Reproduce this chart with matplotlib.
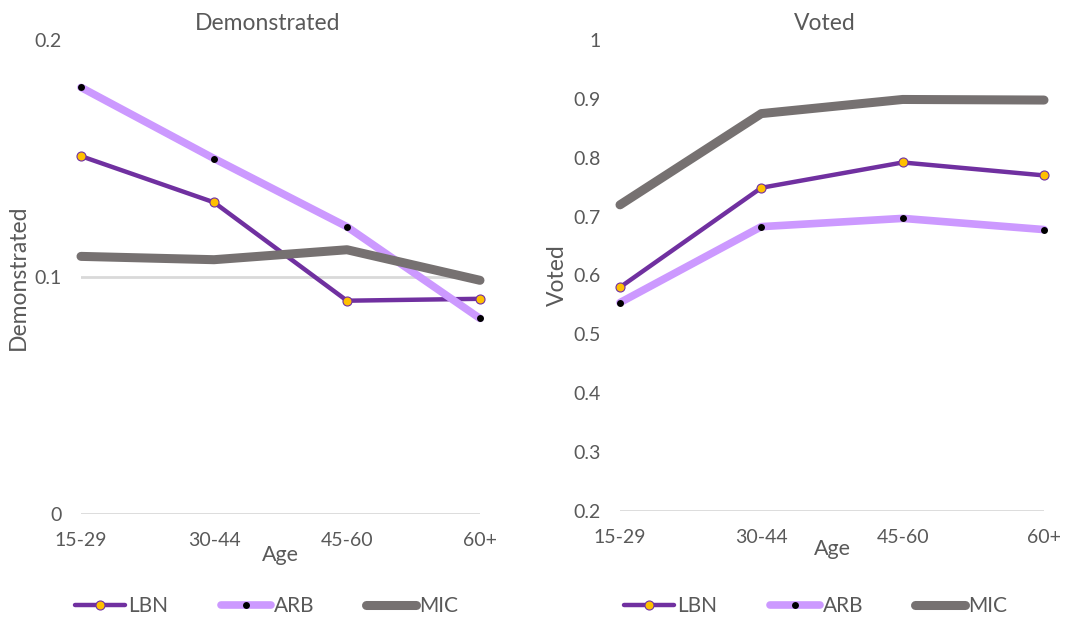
import matplotlib
matplotlib.use("Agg")
import matplotlib.pyplot as plt
from matplotlib.lines import Line2D

plt.rcParams['font.family'] = ['Lato', 'DejaVu Sans']

ages = ["15-29", "30-44", "45-60", "60+"]
series_names = ["LBN", "ARB", "MIC"]

demonstrated_lbn = [0.151, 0.1315, 0.090, 0.0908]
demonstrated_arb = [0.180, 0.150, 0.1212, 0.0825]
demonstrated_mic = [0.1087, 0.1073, 0.1115, 0.0986]

voted_lbn = [0.580, 0.749, 0.792, 0.770]
voted_arb = [0.554, 0.683, 0.697, 0.678]
voted_mic = [0.720, 0.875, 0.899, 0.898]

TEXT = "#595959"
GRID = "#D9D9D9"
styles = {
    "LBN": dict(color="#7030A0", lw=3.2, marker="o", ms=6.5, mfc="#FFC000", mec="#7030A0", mew=0.8, zorder=3),
    "ARB": dict(color="#CC99FF", lw=5.5, marker="o", ms=5, mfc="black", mec="black", mew=0, zorder=4),
    "MIC": dict(color="#767171", lw=6.5, marker="o", ms=0.1, mfc="#767171", mec="#767171", mew=0, zorder=5),
}

fig = plt.figure(figsize=(10.67, 6.19), dpi=100)
W, H = 1067, 619


def make_axes(x0, x1, ytop, ybot):
    return fig.add_axes([x0 / W, 1 - ybot / H, (x1 - x0) / W, (ybot - ytop) / H])


ax1 = make_axes(81, 480, 40, 514)
ax2 = make_axes(620, 1044, 40, 511)

panels = [
    (ax1, "Demonstrated", [demonstrated_lbn, demonstrated_arb, demonstrated_mic],
     (0, 0.2), [0, 0.1, 0.2], ["0", "0.1", "0.2"], [0, 0.1], 268, (267, 606), -3),
    (ax2, "Voted", [voted_lbn, voted_arb, voted_mic],
     (0.2, 1.0), [0.2, 0.3, 0.4, 0.5, 0.6, 0.7, 0.8, 0.9, 1.0],
     ["0.2", "0.3", "0.4", "0.5", "0.6", "0.7", "0.8", "0.9", "1"], [0.2], 825, (816, 606), -5),
]

x = list(range(len(ages)))
for ax, title, data, ylim, yticks, ylabels, grid_at, title_x, leg_pos, xlpad in panels:
    for g in grid_at:
        ax.axhline(g, color=GRID, lw=2, zorder=1)
    for name, vals in zip(series_names, data):
        ax.plot(x, vals, solid_capstyle="round", solid_joinstyle="round",
                clip_on=False, label=name, **styles[name])
    ax.set_xlim(0, 3)
    ax.set_ylim(*ylim)
    ax.set_xticks(x)
    ax.set_xticklabels(ages)
    ax.set_yticks(yticks)
    ax.set_yticklabels(ylabels)
    for s in ax.spines.values():
        s.set_visible(False)
    ax.tick_params(length=0, colors=TEXT, labelsize=14)
    ax.tick_params(axis="y", pad=14)
    ax.tick_params(axis="x", pad=13)
    ax.set_xlabel("Age", fontsize=15.5, color=TEXT, labelpad=xlpad)
    ax.set_ylabel(title, fontsize=16.5, color=TEXT, labelpad=4)
    fig.text(title_x / W, 1 - 24 / H, title, fontsize=16.5, color=TEXT,
             ha="center", va="center")

    handles = [Line2D([], [], **{k: v for k, v in styles[n].items() if k != "zorder"})
               for n in series_names]
    for h in handles:
        h.set_solid_capstyle("round")
    leg = fig.legend(handles, series_names, loc="center",
                     bbox_to_anchor=(leg_pos[0] / W, 1 - leg_pos[1] / H),
                     ncol=3, frameon=False, fontsize=15, handlelength=2.4,
                     handletextpad=0.15, columnspacing=2.5, labelcolor=TEXT,
                     borderaxespad=0, borderpad=0)

fig.savefig("out.png", dpi=100)
